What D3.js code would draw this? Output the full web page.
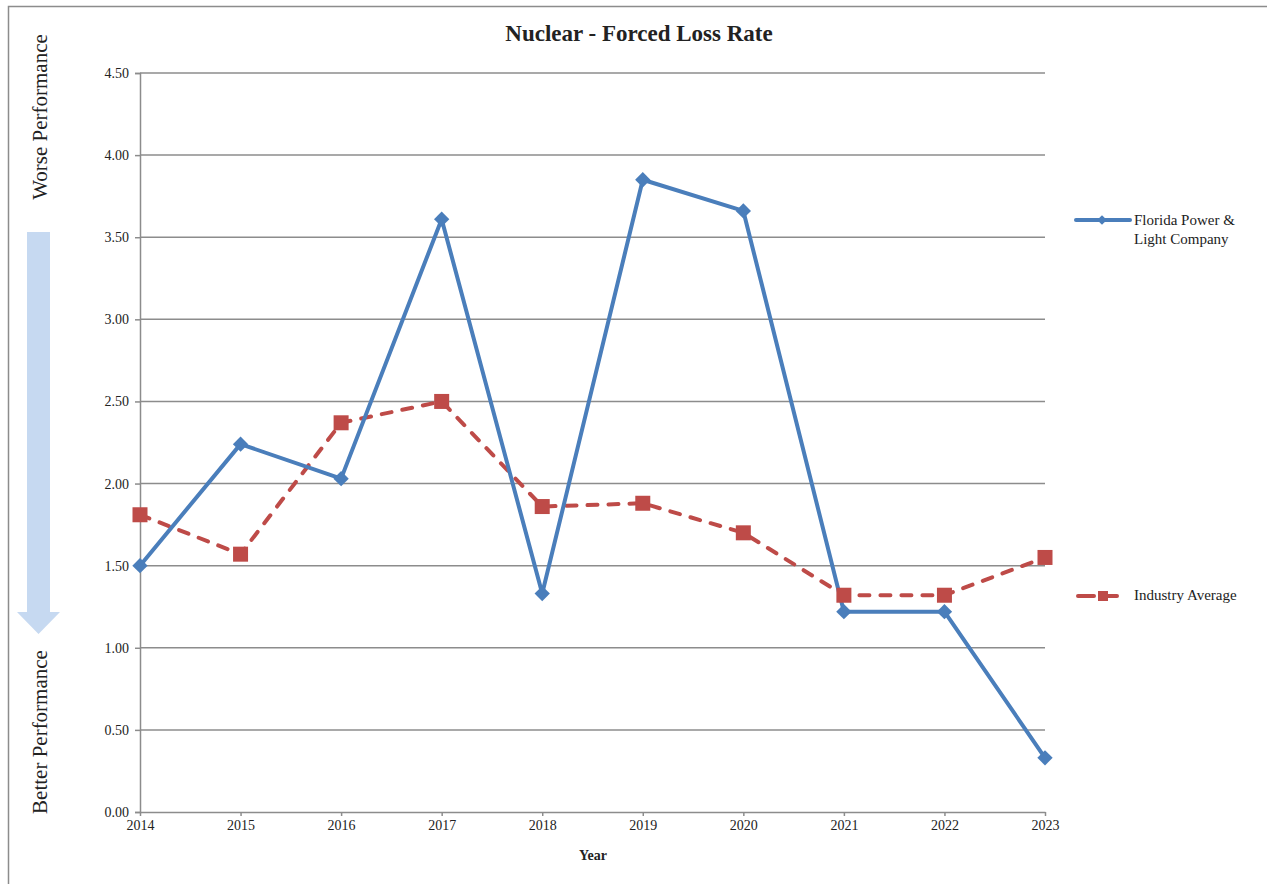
<!DOCTYPE html>
<html>
<head>
<meta charset="utf-8">
<script src="https://cdn.jsdelivr.net/npm/d3@7"></script>
<style>
  body { margin: 0; background: #fff; }
  text { font-family: "Liberation Serif", "DejaVu Serif", serif; fill: #222; }
</style>
</head>
<body>
<div id="chart"></div>
<script>
const years = [2014, 2015, 2016, 2017, 2018, 2019, 2020, 2021, 2022, 2023];
const fplValues = [1.50, 2.24, 2.03, 3.61, 1.33, 3.85, 3.66, 1.22, 1.22, 0.33];
const industryValues = [1.81, 1.57, 2.37, 2.50, 1.86, 1.88, 1.70, 1.32, 1.32, 1.55];
const yTicks = [0, 0.5, 1, 1.5, 2, 2.5, 3, 3.5, 4, 4.5];

const width = 1267, height = 884;
const margin = { left: 140, right: 222, top: 73, bottom: 72 };

const svg = d3.select('#chart').append('svg')
  .attr('width', width)
  .attr('height', height);

// outer frame
svg.append('rect')
  .attr('x', 8.5).attr('y', 6.5)
  .attr('width', 1300).attr('height', 900)
  .attr('fill', 'none').attr('stroke', '#8c8c8c').attr('stroke-width', 1.5);

const x = d3.scaleLinear()
  .domain([2014, 2023])
  .range([margin.left, width - margin.right]);

const y = d3.scaleLinear()
  .domain([0, 4.5])
  .range([height - margin.bottom, margin.top]);

// gridlines
svg.append('g')
  .selectAll('line')
  .data(yTicks.filter(d => d > 0))
  .enter()
  .append('line')
  .attr('x1', x(2014)).attr('x2', x(2023))
  .attr('y1', d => y(d)).attr('y2', d => y(d))
  .attr('stroke', '#8c8c8c').attr('stroke-width', 1.5);

// y axis
const yAxis = svg.append('g')
  .attr('transform', `translate(${x(2014)},0)`)
  .call(d3.axisLeft(y).tickValues(yTicks).tickFormat(d3.format('.2f')).tickSize(5).tickPadding(6));
yAxis.select('.domain').attr('stroke', '#8c8c8c').attr('stroke-width', 1.5);
yAxis.selectAll('.tick line').attr('stroke', '#8c8c8c').attr('stroke-width', 1.5);
yAxis.selectAll('text').attr('font-size', '14px').attr('font-family', '"Liberation Serif", serif').attr('fill', '#222');

// x axis
const xAxis = svg.append('g')
  .attr('transform', `translate(0,${y(0)})`)
  .call(d3.axisBottom(x).tickValues(years).tickFormat(d3.format('d')).tickSize(4).tickPadding(4).tickSizeOuter(0));
xAxis.select('.domain').attr('stroke', '#8c8c8c').attr('stroke-width', 1.5);
xAxis.selectAll('.tick line').attr('stroke', '#8c8c8c').attr('stroke-width', 1.5);
xAxis.selectAll('text').attr('font-size', '14px').attr('font-family', '"Liberation Serif", serif').attr('fill', '#222');

// title
svg.append('text')
  .attr('x', 639).attr('y', 41)
  .attr('text-anchor', 'middle')
  .attr('font-size', '23px')
  .attr('font-weight', 'bold')
  .text('Nuclear - Forced Loss Rate');

svg.append('text')
  .attr('x', 593).attr('y', 860)
  .attr('text-anchor', 'middle')
  .attr('font-size', '14px')
  .attr('font-weight', 'bold')
  .text('Year');

// left performance labels and arrow
svg.append('text')
  .attr('transform', 'translate(47,117) rotate(-90)')
  .attr('text-anchor', 'middle')
  .attr('font-size', '21px')
  .text('Worse Performance');

svg.append('text')
  .attr('transform', 'translate(47,732) rotate(-90)')
  .attr('text-anchor', 'middle')
  .attr('font-size', '21px')
  .text('Better Performance');

svg.append('path')
  .attr('d', 'M27,232 L50,232 L50,612 L60,612 L38.5,634 L17,612 L27,612 Z')
  .attr('fill', '#c6d9f1');

// series
const blue = '#4a7ebb', red = '#be4b48';
const fpl = years.map((yr, i) => ({ year: yr, value: fplValues[i] }));
const ind = years.map((yr, i) => ({ year: yr, value: industryValues[i] }));

svg.append('path')
  .datum(ind)
  .attr('fill', 'none')
  .attr('stroke', red)
  .attr('stroke-width', 4)
  .attr('stroke-dasharray', '10,11')
  .attr('stroke-linecap', 'round')
  .attr('d', d3.line().x(d => x(d.year)).y(d => y(d.value)));

svg.append('path')
  .datum(fpl)
  .attr('fill', 'none')
  .attr('stroke', blue)
  .attr('stroke-width', 4)
  .attr('stroke-linejoin', 'round')
  .attr('d', d3.line().x(d => x(d.year)).y(d => y(d.value)));

svg.append('g')
  .selectAll('rect')
  .data(ind)
  .enter()
  .append('rect')
  .attr('x', d => x(d.year) - 7.5)
  .attr('y', d => y(d.value) - 7.5)
  .attr('width', 15).attr('height', 15)
  .attr('fill', red);

svg.append('g')
  .selectAll('path')
  .data(fpl)
  .enter()
  .append('path')
  .attr('transform', d => `translate(${x(d.year)},${y(d.value)})`)
  .attr('d', d3.symbol().type(d3.symbolDiamond2).size(150))
  .attr('fill', blue);

// legend
const legend = svg.append('g');
legend.append('line')
  .attr('x1', 1076).attr('x2', 1130).attr('y1', 220).attr('y2', 220)
  .attr('stroke', blue).attr('stroke-width', 4).attr('stroke-linecap', 'round');
legend.append('path')
  .attr('transform', 'translate(1102,220)')
  .attr('d', d3.symbol().type(d3.symbolDiamond2).size(60))
  .attr('fill', blue);
legend.append('text').attr('x', 1134).attr('y', 225).attr('font-size', '15px').text('Florida Power &');
legend.append('text').attr('x', 1134).attr('y', 244).attr('font-size', '15px').text('Light Company');

legend.append('line')
  .attr('x1', 1078).attr('x2', 1124).attr('y1', 596).attr('y2', 596)
  .attr('stroke', red).attr('stroke-width', 4).attr('stroke-dasharray', '16,7').attr('stroke-linecap', 'round');
legend.append('rect')
  .attr('x', 1098).attr('y', 591).attr('width', 10).attr('height', 10)
  .attr('fill', red);
legend.append('text').attr('x', 1134).attr('y', 600).attr('font-size', '15px').text('Industry Average');
</script>
</body>
</html>
